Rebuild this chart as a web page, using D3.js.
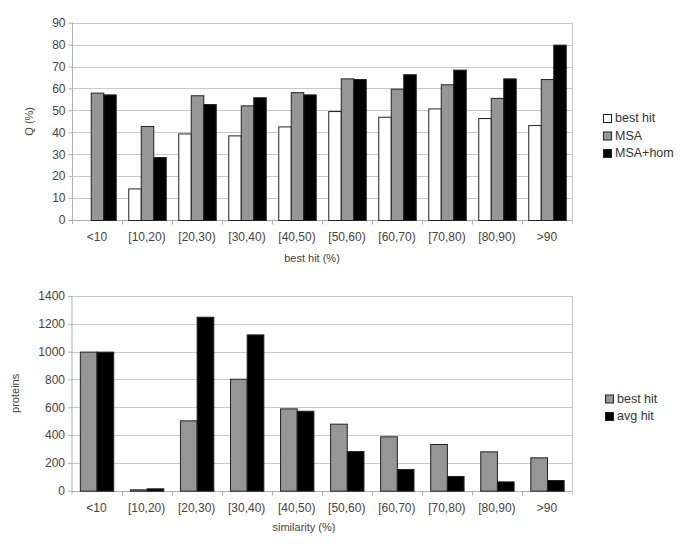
<!DOCTYPE html>
<html>
<head>
<meta charset="utf-8">
<script src="https://cdn.jsdelivr.net/npm/d3@7"></script>
<style>
  body { margin: 0; background: #fff; }
  svg { display: block; font-family: "Liberation Sans", Arial, sans-serif; }
  .tick text { fill: #444; }
</style>
</head>
<body>
<script>
  let categories = ['<10', '[10,20)', '[20,30)', '[30,40)', '[40,50)', '[50,60)', '[60,70)', '[70,80)', '[80,90)', '>90'];

  // top chart: Q (%)
  let qSeries  = ['best hit', 'MSA', 'MSA+hom'];
  let qBestHit = [0, 14.4, 39.5, 38.6, 42.7, 49.7, 47.1, 50.9, 46.5, 43.3];
  let qMSA     = [58.1, 42.9, 56.9, 52.3, 58.3, 64.6, 59.9, 61.9, 55.7, 64.3];
  let qMSAHom  = [57.3, 28.7, 52.9, 56.0, 57.3, 64.3, 66.5, 68.6, 64.6, 80.0];
  let qTicks   = [0, 10, 20, 30, 40, 50, 60, 70, 80, 90];

  // bottom chart: proteins
  let pSeries  = ['best hit', 'avg hit'];
  let pBestHit = [1000, 10, 506, 805, 592, 482, 391, 336, 283, 240];
  let pAvgHit  = [1000, 17, 1251, 1124, 575, 285, 156, 106, 67, 77];
  let pTicks   = [0, 200, 400, 600, 800, 1000, 1200, 1400];

  let W = 685, H = 547;
  let svg = d3.select('body').append('svg').attr('width', W).attr('height', H);

  function barChart(opt) {
    let g = svg.append('g');
    let x0 = d3.scaleBand().domain(categories).range([opt.left, opt.right]);
    // gap between groups equals one bar width
    let nb = opt.series.length;
    let x1 = d3.scaleBand().domain(d3.range(nb))
      .range([0, x0.bandwidth()])
      .paddingOuter(0.5);
    let y = d3.scaleLinear().domain([0, opt.max]).range([opt.bottom, opt.top]);

    // grid
    g.selectAll('line.grid').data(opt.ticks.slice(1)).enter().append('line')
      .attr('x1', opt.left).attr('x2', opt.right)
      .attr('y1', d => Math.round(y(d)) + 0.5).attr('y2', d => Math.round(y(d)) + 0.5)
      .attr('stroke', '#c8c8c8');
    g.append('line')
      .attr('x1', opt.right + 0.5).attr('x2', opt.right + 0.5)
      .attr('y1', y(opt.max)).attr('y2', opt.bottom + 4)
      .attr('stroke', '#c8c8c8');

    // y axis
    let yAxis = d3.axisLeft(y).tickValues(opt.ticks).tickFormat(d3.format('d')).tickSize(4).tickPadding(3);
    let ya = g.append('g').attr('transform', 'translate(' + (opt.left + 0.5) + ',0)').call(yAxis);
    ya.select('.domain').attr('stroke', '#b0b0b0').attr('d', 'M0,' + y(opt.max) + 'V' + (opt.bottom + 4));
    ya.selectAll('.tick line').attr('stroke', '#b0b0b0');
    ya.selectAll('.tick text').style('font-size', '12px').style('font-family', '"Liberation Sans", Arial, sans-serif');

    // x axis
    let xa = g.append('g').attr('transform', 'translate(0,' + (Math.round(opt.bottom) + 0.5) + ')');
    xa.append('line').attr('x1', opt.left).attr('x2', opt.right).attr('stroke', '#b0b0b0');
    xa.selectAll('line.tk').data(categories.slice(1)).enter().append('line')
      .attr('x1', d => Math.round(x0(d)) + 0.5).attr('x2', d => Math.round(x0(d)) + 0.5)
      .attr('y1', 0).attr('y2', 4).attr('stroke', '#b0b0b0');
    xa.selectAll('text').data(categories).enter().append('text')
      .attr('x', d => x0(d) + x0.bandwidth() / 2)
      .attr('y', 20)
      .attr('text-anchor', 'middle')
      .attr('fill', '#444')
      .style('font-size', '12px')
      .text(d => d);

    // bars
    opt.series.forEach(function (s, i) {
      g.selectAll('rect.s' + i).data(opt.values[i]).enter().append('rect')
        .attr('x', (d, j) => x0(categories[j]) + x1(i) + 0.5)
        .attr('y', d => y(d) + 0.5)
        .attr('width', x1.bandwidth())
        .attr('height', d => Math.max(0, opt.bottom - y(d)))
        .attr('fill', opt.colors[i])
        .attr('stroke', '#222')
        .attr('stroke-width', 1);
    });

    // axis titles
    g.append('text')
      .attr('transform', 'translate(' + opt.yTitleX + ',' + ((opt.top + opt.bottom) / 2) + ') rotate(-90)')
      .attr('text-anchor', 'middle')
      .attr('dy', '0.35em')
      .attr('fill', '#444')
      .style('font-size', '11px')
      .text(opt.yTitle);
    g.append('text')
      .attr('x', opt.xTitleX).attr('y', opt.xTitleY)
      .attr('text-anchor', 'middle')
      .attr('dy', '0.35em')
      .attr('fill', '#444')
      .style('font-size', '11px')
      .text(opt.xTitle);

    // legend
    let lg = g.selectAll('g.legend').data(opt.series).enter().append('g')
      .attr('transform', (d, i) => 'translate(' + opt.legendX + ',' + (opt.legendY + i * opt.legendStep) + ')');
    lg.append('rect').attr('x', -3.5).attr('y', -3.5).attr('width', 8).attr('height', 8)
      .attr('fill', (d, i) => opt.colors[i]).attr('stroke', '#222');
    lg.append('text').attr('x', 8).attr('dy', '0.35em')
      .attr('fill', '#333').style('font-size', '12.5px').text(d => d);
  }

  barChart({
    series: qSeries,
    values: [qBestHit, qMSA, qMSAHom],
    colors: ['#ffffff', '#969696', '#000000'],
    max: 90, ticks: qTicks,
    left: 72, right: 572, top: 22.7, bottom: 220,
    yTitle: 'Q (%)', yTitleX: 29,
    xTitle: 'best hit (%)', xTitleX: 312, xTitleY: 258,
    legendX: 607, legendY: 118, legendStep: 17.5
  });

  barChart({
    series: pSeries,
    values: [pBestHit, pAvgHit],
    colors: ['#969696', '#000000'],
    max: 1400, ticks: pTicks,
    left: 71.5, right: 572, top: 296, bottom: 490.7,
    yTitle: 'proteins', yTitleX: 15,
    xTitle: 'similarity (%)', xTitleX: 304, xTitleY: 527,
    legendX: 609, legendY: 398.5, legendStep: 17.5
  });
</script>
</body>
</html>
